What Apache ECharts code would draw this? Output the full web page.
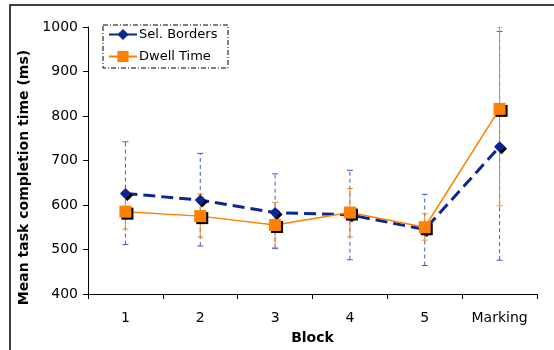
<!DOCTYPE html>
<html>
<head>
<meta charset="utf-8">
<script src="https://cdn.jsdelivr.net/npm/echarts@6/dist/echarts.min.js"></script>
<style>
  html, body { margin: 0; padding: 0; background: #fff; }
  #chart { width: 554px; height: 350px; }
</style>
</head>
<body>
<div id="chart"></div>
<script>
const blocks = ["1", "2", "3", "4", "5", "Marking"];
const selBorders = [626, 611, 583, 578, 545, 731];
const selLow = [511, 508, 502, 477, 464, 476];
const selHigh = [742, 716, 670, 678, 624, 990];
const dwellTime = [585, 575, 555, 583, 550, 816];
const dwellLow = [546, 528, 504, 528, 521, 598];
const dwellHigh = [624, 624, 606, 637, 580, 1000];

const font = "DejaVu Sans";
const myChart = echarts.init(document.getElementById("chart"));

// error bars drawn with the axis scales
const errBars = (low, high, color, dash) => ({
  type: "custom",
  z: 1,
  silent: true,
  clip: true,
  data: low.map((v, i) => [i, v, high[i]]),
  renderItem: (params, api) => {
    const lo = api.coord([api.value(0), api.value(1)]);
    const hi = api.coord([api.value(0), api.value(2)]);
    const style = { stroke: color, lineWidth: 1, lineDash: dash };
    const cap = { stroke: color, lineWidth: 1 };
    return {
      type: "group",
      children: [
        { type: "line", shape: { x1: lo[0], y1: lo[1], x2: hi[0], y2: hi[1] }, style: style },
        { type: "line", shape: { x1: lo[0] - 3, y1: lo[1], x2: lo[0] + 3, y2: lo[1] }, style: cap },
        { type: "line", shape: { x1: hi[0] - 3, y1: hi[1], x2: hi[0] + 3, y2: hi[1] }, style: cap },
      ],
    };
  },
});

const option = {
  animation: false,
  textStyle: { fontFamily: font },
  grid: { left: 88, right: 17, top: 27, bottom: 56, outerBoundsMode: "none" },
  graphic: [
    {
      type: "rect",
      shape: { x: 10, y: 5, width: 600, height: 400 },
      style: { fill: "none", stroke: "#000", lineWidth: 1.5 },
      silent: true,
    },
    {
      type: "rect",
      shape: { x: 103, y: 25, width: 125, height: 43 },
      style: { fill: "none", stroke: "#000", lineWidth: 1, lineDash: [5, 2, 1, 2] },
      silent: true,
    },
  ],
  legend: {
    orient: "vertical",
    left: 108,
    top: 28,
    padding: 0,
    itemGap: 9,
    itemWidth: 28,
    itemHeight: 14,
    textStyle: { fontFamily: font, fontSize: 13, color: "#000", padding: [0, 0, 0, -3] },
    data: ["Sel. Borders", "Dwell Time"],
  },
  xAxis: {
    type: "category",
    data: blocks,
    boundaryGap: true,
    name: "Block",
    nameLocation: "middle",
    nameGap: 37,
    nameTextStyle: { fontFamily: font, fontWeight: "bold", fontSize: 14, color: "#000" },
    axisLine: { lineStyle: { color: "#000", width: 1 } },
    axisTick: { show: true, alignWithLabel: false, length: 5, lineStyle: { color: "#000" } },
    axisLabel: { color: "#000", fontSize: 14, margin: 17 },
  },
  yAxis: {
    type: "value",
    min: 400,
    max: 1000,
    interval: 100,
    name: "Mean task completion time (ms)",
    nameLocation: "middle",
    nameGap: 52,
    nameTextStyle: { fontFamily: font, fontWeight: "bold", fontSize: 14, color: "#000", padding: [0, 34, 0, 0] },
    axisLine: { show: true, lineStyle: { color: "#000", width: 1 } },
    axisTick: { show: true, length: 5, lineStyle: { color: "#000" } },
    axisLabel: { color: "#000", fontSize: 14, margin: 10, formatter: (v) => String(v) },
    splitLine: { show: false },
  },
  series: [
    errBars(selLow, selHigh, "#3c5cd0", [4, 3]),
    errBars(dwellLow, dwellHigh, "#f08a20", null),
    {
      name: "Sel. Borders",
      type: "line",
      z: 3,
      data: selBorders,
      symbol: "diamond",
      symbolSize: 11,
      color: "#0a2690",
      lineStyle: { color: "#0a2690", width: 3, type: [12, 6] },
      itemStyle: { color: "#0a2690", shadowColor: "#000", shadowOffsetX: 2, shadowOffsetY: 2, shadowBlur: 0 },
    },
    {
      name: "Dwell Time",
      type: "line",
      z: 4,
      data: dwellTime,
      symbol: "rect",
      symbolSize: 12,
      color: "#ff8000",
      lineStyle: { color: "#ff8000", width: 1.5 },
      itemStyle: { color: "#ff8000", shadowColor: "#000", shadowOffsetX: 2, shadowOffsetY: 2, shadowBlur: 0 },
    },
  ],
};

option && myChart.setOption(option);
</script>
</body>
</html>
